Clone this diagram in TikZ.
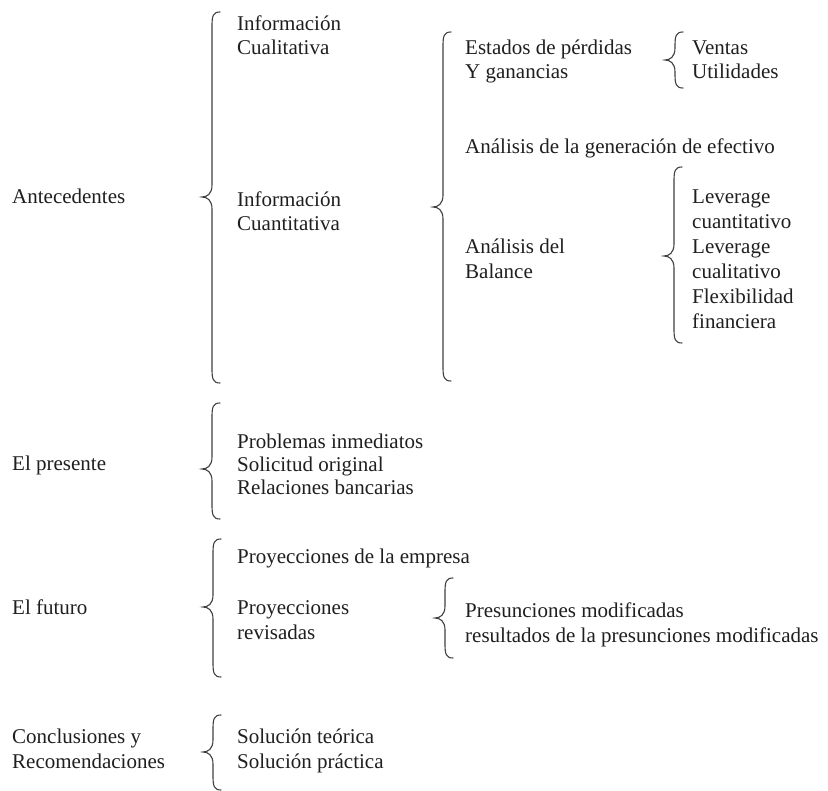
\documentclass[tikz,border=0pt]{standalone}
\usepackage{fontspec}
\setmainfont{Liberation Serif}
\tikzset{
  lbl/.style={anchor=base west, inner sep=0pt, font=\fontsize{21}{25}\selectfont, text=black!88},
  brc/.style={line width=1.1pt, draw=black!75, line cap=round}
}
% #1 tip x, #2 top y, #3 tip y, #4 bottom y
\newcommand\cbrace[4]{%
  \draw[brc] ({#1+18},#2) .. controls ({#1+11},#2) and ({#1+10},{#2+4}) .. ({#1+10},{#2+14})
    -- ({#1+10},{#3-12}) .. controls ({#1+10},{#3-3}) and ({#1+5},#3) .. (#1,#3)
    .. controls ({#1+5},#3) and ({#1+10},{#3+3}) .. ({#1+10},{#3+12})
    -- ({#1+10},{#4-14}) .. controls ({#1+10},{#4-4}) and ({#1+11},#4) .. ({#1+18},#4);}
\begin{document}
\begin{tikzpicture}[x=1pt,y=-1pt]
\useasboundingbox[fill=white] (0,0) rectangle (828,791);
% ---- Antecedentes
\node[lbl] (ant) at (12,204) {Antecedentes};
\cbrace{202}{12}{197}{383}
\node[lbl] (inf1a) at (237,31) {Información};
\node[lbl] (inf1b) at (237,55) {Cualitativa};
\node[lbl] (inf2a) at (237,207) {Información};
\node[lbl] (inf2b) at (237,231) {Cuantitativa};
\cbrace{433}{32}{207}{381}
\node[lbl] (esta) at (465,55) {Estados de pérdidas};
\node[lbl] (estb) at (465,79) {Y ganancias};
\cbrace{665}{32}{60}{88}
\node[lbl] (ven) at (692,55) {Ventas};
\node[lbl] (uti) at (692,79) {Utilidades};
\node[lbl] (gen) at (465,154) {Análisis de la generación de efectivo};
\node[lbl] (bala) at (465,254) {Análisis del};
\node[lbl] (balb) at (465,279) {Balance};
\cbrace{664}{167}{256}{343}
\node[lbl] (lev1) at (692,204) {Leverage};
\node[lbl] (lev2) at (692,229) {cuantitativo};
\node[lbl] (lev3) at (692,254) {Leverage};
\node[lbl] (lev4) at (692,279) {cualitativo};
\node[lbl] (flx1) at (692,304) {Flexibilidad};
\node[lbl] (flx2) at (692,329) {financiera};
% ---- El presente
\node[lbl] (pre) at (12,471) {El presente};
\cbrace{202}{403}{469}{519}
\node[lbl] (pr1) at (237,449) {Problemas inmediatos};
\node[lbl] (pr2) at (237,472) {Solicitud original};
\node[lbl] (pr3) at (237,495) {Relaciones bancarias};
% ---- El futuro
\node[lbl] (fut) at (12,614) {El futuro};
\cbrace{203}{539}{607}{677}
\node[lbl] (pe) at (237,563) {Proyecciones de la empresa};
\node[lbl] (pra) at (237,614) {Proyecciones};
\node[lbl] (prb) at (237,639) {revisadas};
\cbrace{435}{578}{618}{658}
\node[lbl] (pm1) at (465,617) {Presunciones modificadas};
\node[lbl] (pm2) at (465,642) {resultados de la presunciones modificadas};
% ---- Conclusiones
\node[lbl] (cona) at (12,743) {Conclusiones y};
\node[lbl] (conb) at (12,768) {Recomendaciones};
\cbrace{203}{715}{752}{790}
\node[lbl] (sol1) at (237,743) {Solución teórica};
\node[lbl] (sol2) at (237,768) {Solución práctica};
\end{tikzpicture}
\end{document}
